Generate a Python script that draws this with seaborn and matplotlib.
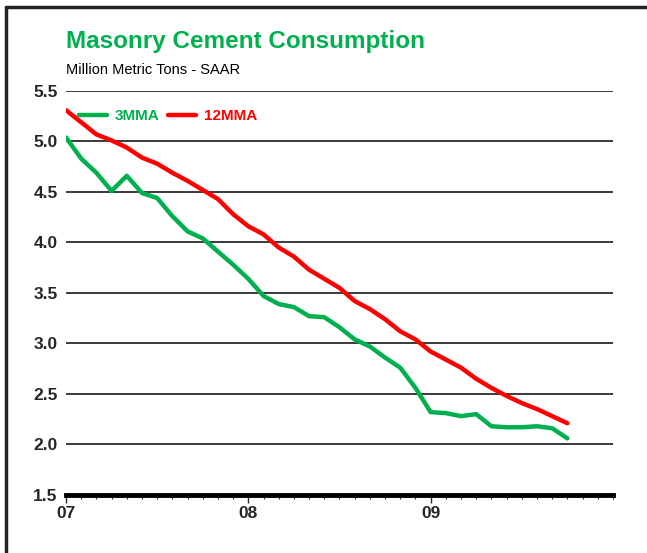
import numpy as np
import pandas as pd
import seaborn as sns
import matplotlib.pyplot as plt
from matplotlib.lines import Line2D
from matplotlib.ticker import MultipleLocator, FixedLocator

# monthly data, Jan 2007 .. Oct 2009
mma3 = [5.04, 4.83, 4.69, 4.51, 4.66, 4.49, 4.44, 4.26, 4.11, 4.04, 3.91, 3.78,
        3.64, 3.47, 3.39, 3.36, 3.27, 3.26, 3.16, 3.04, 2.97, 2.86, 2.76, 2.56,
        2.32, 2.31, 2.28, 2.30, 2.18, 2.17, 2.17, 2.18, 2.16, 2.06]
mma12 = [5.31, 5.19, 5.07, 5.01, 4.94, 4.84, 4.78, 4.69, 4.61, 4.52, 4.43, 4.28,
         4.16, 4.08, 3.95, 3.86, 3.73, 3.64, 3.55, 3.42, 3.34, 3.24, 3.12, 3.04,
         2.92, 2.84, 2.76, 2.65, 2.56, 2.48, 2.41, 2.35, 2.28, 2.21]
year_labels = ["07", "08", "09"]

months = np.arange(len(mma3))
df = pd.concat([
    pd.DataFrame({"month": months, "value": mma3, "series": "3MMA"}),
    pd.DataFrame({"month": months, "value": mma12, "series": "12MMA"}),
])

sns.set_style("white")
plt.rcParams["font.family"] = ["Liberation Sans Narrow", "Liberation Sans", "DejaVu Sans"]

green = "#00B04F"
red = "#FF0000"

fig = plt.figure(figsize=(6.47, 5.53), dpi=100)
ax = fig.add_axes([0.102, 0.105, 0.8454, 0.7305])

for y in np.arange(2.0, 5.51, 0.5):
    ax.axhline(y, color="#3a3a3a", linewidth=1.4, zorder=1)

sns.lineplot(data=df, x="month", y="value", hue="series",
             palette={"3MMA": green, "12MMA": red}, linewidth=3.2,
             ax=ax, zorder=3)

ax.set_xlim(0, 36)
ax.set_ylim(1.5, 5.5)
ax.yaxis.set_major_locator(MultipleLocator(0.5))
ax.yaxis.set_major_formatter(plt.FuncFormatter(lambda v, p: f"{v:.1f}"))
ax.xaxis.set_major_locator(FixedLocator([0, 12, 24]))
ax.set_xticklabels(year_labels)
ax.xaxis.set_minor_locator(MultipleLocator(1))
ax.set_xlabel("")
ax.set_ylabel("")

for s in ["top", "right", "left"]:
    ax.spines[s].set_visible(False)
ax.spines["bottom"].set_linewidth(3.5)
ax.spines["bottom"].set_color("black")
ax.spines["bottom"].set_zorder(4)

ax.tick_params(axis="y", length=0, pad=6, labelsize=12.5)
ax.tick_params(axis="x", which="major", direction="out", length=6, width=1,
               pad=2, labelsize=12.5, bottom=True)
ax.tick_params(axis="x", which="minor", direction="out", length=3, width=0.8,
               bottom=True)
for lab in ax.get_xticklabels() + ax.get_yticklabels():
    lab.set_fontweight("bold")

leg = ax.legend(loc="upper left", ncol=2, frameon=False, handlelength=1.8,
                handletextpad=0.5, columnspacing=0.6, borderaxespad=0.3,
                bbox_to_anchor=(0.005, 0.981),
                prop={"weight": "bold", "size": 11})
for txt, col in zip(leg.get_texts(), [green, red]):
    txt.set_color(col)

fig.text(0.102, 0.925, "Masonry Cement Consumption", color=green,
         fontsize=17.5, fontweight="bold", ha="left", va="center")
fig.text(0.102, 0.873, "Million Metric Tons - SAAR", color="black",
         fontsize=10.5, ha="left", va="center")

# frame on top and left
fig.add_artist(Line2D([6 / 647, 1], [1 - 7 / 553, 1 - 7 / 553],
                      transform=fig.transFigure, color="#222222", linewidth=2.5))
fig.add_artist(Line2D([6 / 647, 6 / 647], [0, 1 - 7 / 553],
                      transform=fig.transFigure, color="#222222", linewidth=2.5))

fig.savefig("out.png", dpi=100)
